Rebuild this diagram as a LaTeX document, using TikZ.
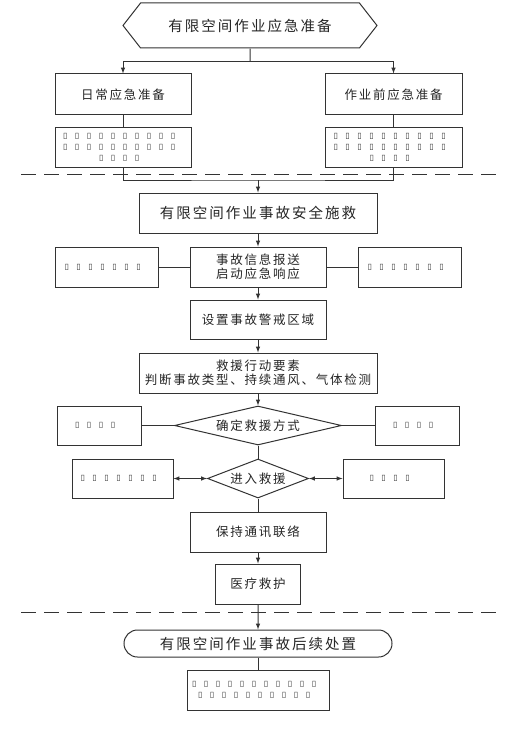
\documentclass[tikz,border=0pt]{standalone}
\usepackage{fontspec}
\setmainfont{Noto Sans CJK SC}[LetterSpace=14]
\newfontfamily\tofufont{DejaVu Sans}
\usetikzlibrary{shapes.geometric,shapes.misc,shapes.symbols}
\newcommand{\tofurow}[1]{\foreach \k in {1,...,#1}{\makebox[12pt][l]{▯}}}
\begin{document}
\begin{tikzpicture}
  [x=1pt,y=-1pt,
  boxdecorate/.style={shape=rectangle,draw=black!80,fill=white,line width=1pt,inner sep=1pt,align=center,text=black!85,font=\fontsize{12.5}{14}\selectfont},%
  notedecorate/.style={boxdecorate,text=black!80,font=\tofufont\fontsize{8}{11}\selectfont},%
  bigdecorate/.style={boxdecorate,font=\fontsize{14.5}{16}\selectfont},%
  widediamond/.style={boxdecorate,shape=diamond,inner sep=0pt,aspect=4.3},%
  narrowdiamond/.style={boxdecorate,shape=diamond,inner sep=0pt,aspect=2.6},%
  linedecorate/.style={-,draw=black!80,line width=1pt},%
  arrowdecorate/.style={linedecorate,->,>=latex},%
  bothdecorate/.style={linedecorate,<->,>=latex},%
  dashdecorate/.style={draw=black!80,line width=0.9pt,dash pattern=on 15pt off 8pt}]
  \useasboundingbox (0,0) rectangle (527,733);
  %% separators
  \draw[dashdecorate] (21,174) -- (497,174);
  \draw[dashdecorate] (21,612) -- (497,612);
  %% nodes or boxes
  \node (prep) at (250,25.5) [bigdecorate,shape=signal,signal to=east and west,signal pointer angle=104,minimum width=254pt,minimum height=45pt] {有限空间作业应急准备};
  \node (followup) at (258,643.5) [bigdecorate,shape=rounded rectangle,minimum width=270pt,minimum height=27pt] {有限空间作业事故后续处置};
  \foreach \nodename/\nodestyle/\x/\y/\w/\h/\nodetext in {
    daily/boxdecorate/123/94.5/136/41/日常应急准备,
    prework/boxdecorate/393.5/94.5/137/41/作业前应急准备,
    dailynote/notedecorate/123/147.5/136/39/{\tofurow{10}\\\tofurow{10}\\\tofurow{4}},
    preworknote/notedecorate/393.5/147.5/137/39/{\tofurow{10}\\\tofurow{10}\\\tofurow{4}},
    rescue/bigdecorate/258/213/238/40/有限空间作业事故安全施救,
    report/boxdecorate/258/267/136/40/{事故信息报送\\启动应急响应},
    reportL/notedecorate/106.5/267/103/40/{\tofurow{7}},
    reportR/notedecorate/409.5/267/103/40/{\tofurow{7}},
    cordon/boxdecorate/258/319.5/136/39/设置事故警戒区域,
    elements/boxdecorate/258/373/238/40/{救援行动要素\\判断事故类型、持续通风、气体检测},
    decide/widediamond/258/425.5/167/39/确定救援方式,
    decideL/notedecorate/99/425.5/84/39/{\tofurow{4}},
    decideR/notedecorate/417/425.5/84/39/{\tofurow{4}},
    enter/narrowdiamond/258/478.5/101/39/进入救援,
    enterL/notedecorate/122.5/478.5/101/39/{\tofurow{7}},
    enterR/notedecorate/393.5/478.5/101/39/{\tofurow{4}},
    contact/boxdecorate/258/532/136/40/保持通讯联络,
    medical/boxdecorate/258/584/85/40/医疗救护,
    followupnote/notedecorate/258/690/142/40/{\tofurow{11}\\\tofurow{10}}}
  {
    \node (\nodename) at (\x,\y) [\nodestyle,minimum width=\w pt,minimum height=\h pt] {\nodetext};
  }
  %% edges or lines
  \coordinate (split) at (250,62);
  \coordinate (merge) at (258,180);
  \draw[linedecorate] (prep) -- (split);
  \draw[arrowdecorate] (split) -| (daily);
  \draw[arrowdecorate] (split) -| (prework);
  \draw[linedecorate] (dailynote) |- (merge) -| (preworknote);
  \path
  \foreach \startnode/\endnode/\edgestyle in {daily/dailynote/linedecorate,
    prework/preworknote/linedecorate, merge/rescue/arrowdecorate,
    rescue/report/arrowdecorate, reportL/report/linedecorate, report/reportR/linedecorate,
    report/cordon/arrowdecorate, cordon/elements/arrowdecorate, elements/decide/arrowdecorate,
    decideL/decide/linedecorate, decide/decideR/linedecorate, decide/enter/linedecorate,
    enterL/enter/bothdecorate, enter/enterR/bothdecorate, enter/contact/linedecorate,
    contact/medical/arrowdecorate, medical/followup/arrowdecorate,
    followup/followupnote/linedecorate}
  {
    (\startnode) edge[\edgestyle] (\endnode)
  };
\end{tikzpicture}
\end{document}
